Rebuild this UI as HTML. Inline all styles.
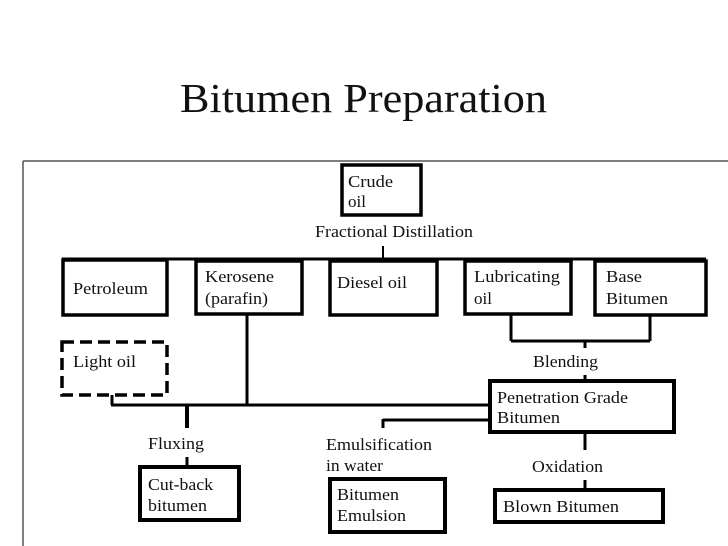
<!DOCTYPE html>
<html><head><meta charset="utf-8"><style>
html,body{margin:0;padding:0;background:#fff;}
svg{display:block;}
text{font-family:"Liberation Serif",serif;font-size:16.5px;fill:#111;}
</style></head><body>
<svg width="728" height="546" viewBox="0 0 728 546" xmlns="http://www.w3.org/2000/svg">
<rect width="728" height="546" fill="#fff"/>
<text x="180" y="112" style="font-size:41px" textLength="367" lengthAdjust="spacingAndGlyphs">Bitumen Preparation</text>
<line x1="23" y1="161" x2="728" y2="161" stroke="#555" stroke-width="1.5"/>
<line x1="23" y1="161" x2="23" y2="546" stroke="#555" stroke-width="1.5"/>
<g fill="none" stroke="#000" stroke-width="3.5">
<rect x="342" y="165" width="79" height="50"/>
<rect x="63" y="260" width="104" height="55"/>
<rect x="196" y="261" width="106" height="53"/>
<rect x="330" y="261" width="107" height="54"/>
<rect x="465" y="261" width="106" height="53"/>
<rect x="595" y="261" width="111" height="54"/>
<rect x="62" y="342" width="105" height="53" stroke-dasharray="12,6"/>
<rect x="490" y="381" width="184" height="51" stroke-width="4"/>
<rect x="140" y="467" width="99" height="53" stroke-width="4"/>
<rect x="330" y="479" width="115" height="53" stroke-width="4"/>
<rect x="495" y="490" width="168" height="32" stroke-width="4"/>
</g>
<g stroke="#000" stroke-width="3">
<line x1="62" y1="259" x2="706" y2="259"/>
<line x1="383" y1="246" x2="383" y2="259" stroke-width="2"/>
<line x1="247" y1="314" x2="247" y2="405"/>
<line x1="511" y1="314" x2="511" y2="341"/>
<line x1="650" y1="315" x2="650" y2="341"/>
<line x1="511" y1="341" x2="650" y2="341"/>
<line x1="585" y1="341" x2="585" y2="348"/>
<line x1="585" y1="375" x2="585" y2="381"/>
<line x1="112" y1="395" x2="112" y2="405"/>
<line x1="111" y1="405" x2="490" y2="405"/>
<line x1="187" y1="405" x2="187" y2="428" stroke-width="4"/>
<line x1="187" y1="457" x2="187" y2="466"/>
<line x1="383" y1="420" x2="490" y2="420"/>
<line x1="383" y1="419" x2="383" y2="428"/>
<line x1="585" y1="432" x2="585" y2="450"/>
<line x1="585" y1="480" x2="585" y2="490"/>
</g>
<g style="font-size:16.5px">
<text x="348" y="187" textLength="45" lengthAdjust="spacingAndGlyphs">Crude</text>
<text x="348" y="207" textLength="18" lengthAdjust="spacingAndGlyphs">oil</text>
<text x="315" y="237" textLength="158" lengthAdjust="spacingAndGlyphs">Fractional Distillation</text>
<text x="73" y="294" textLength="75" lengthAdjust="spacingAndGlyphs">Petroleum</text>
<text x="205" y="282" textLength="69" lengthAdjust="spacingAndGlyphs">Kerosene</text>
<text x="205" y="304" textLength="63" lengthAdjust="spacingAndGlyphs">(parafin)</text>
<text x="337" y="288" textLength="70" lengthAdjust="spacingAndGlyphs">Diesel oil</text>
<text x="474" y="282" textLength="86" lengthAdjust="spacingAndGlyphs">Lubricating</text>
<text x="474" y="304" textLength="18" lengthAdjust="spacingAndGlyphs">oil</text>
<text x="606" y="282" textLength="36" lengthAdjust="spacingAndGlyphs">Base</text>
<text x="606" y="304" textLength="62" lengthAdjust="spacingAndGlyphs">Bitumen</text>
<text x="73" y="367" textLength="63" lengthAdjust="spacingAndGlyphs">Light oil</text>
<text x="533" y="367" textLength="65" lengthAdjust="spacingAndGlyphs">Blending</text>
<text x="497" y="403" textLength="131" lengthAdjust="spacingAndGlyphs">Penetration Grade</text>
<text x="497" y="423" textLength="63" lengthAdjust="spacingAndGlyphs">Bitumen</text>
<text x="148" y="449" textLength="56" lengthAdjust="spacingAndGlyphs">Fluxing</text>
<text x="326" y="450" textLength="106" lengthAdjust="spacingAndGlyphs">Emulsification</text>
<text x="326" y="471" textLength="57" lengthAdjust="spacingAndGlyphs">in water</text>
<text x="532" y="472" textLength="71" lengthAdjust="spacingAndGlyphs">Oxidation</text>
<text x="148" y="490" textLength="65" lengthAdjust="spacingAndGlyphs">Cut-back</text>
<text x="148" y="511" textLength="59" lengthAdjust="spacingAndGlyphs">bitumen</text>
<text x="337" y="500" textLength="62" lengthAdjust="spacingAndGlyphs">Bitumen</text>
<text x="337" y="521" textLength="69" lengthAdjust="spacingAndGlyphs">Emulsion</text>
<text x="503" y="512" textLength="116" lengthAdjust="spacingAndGlyphs">Blown Bitumen</text>
</g>
</svg>
</body></html>
